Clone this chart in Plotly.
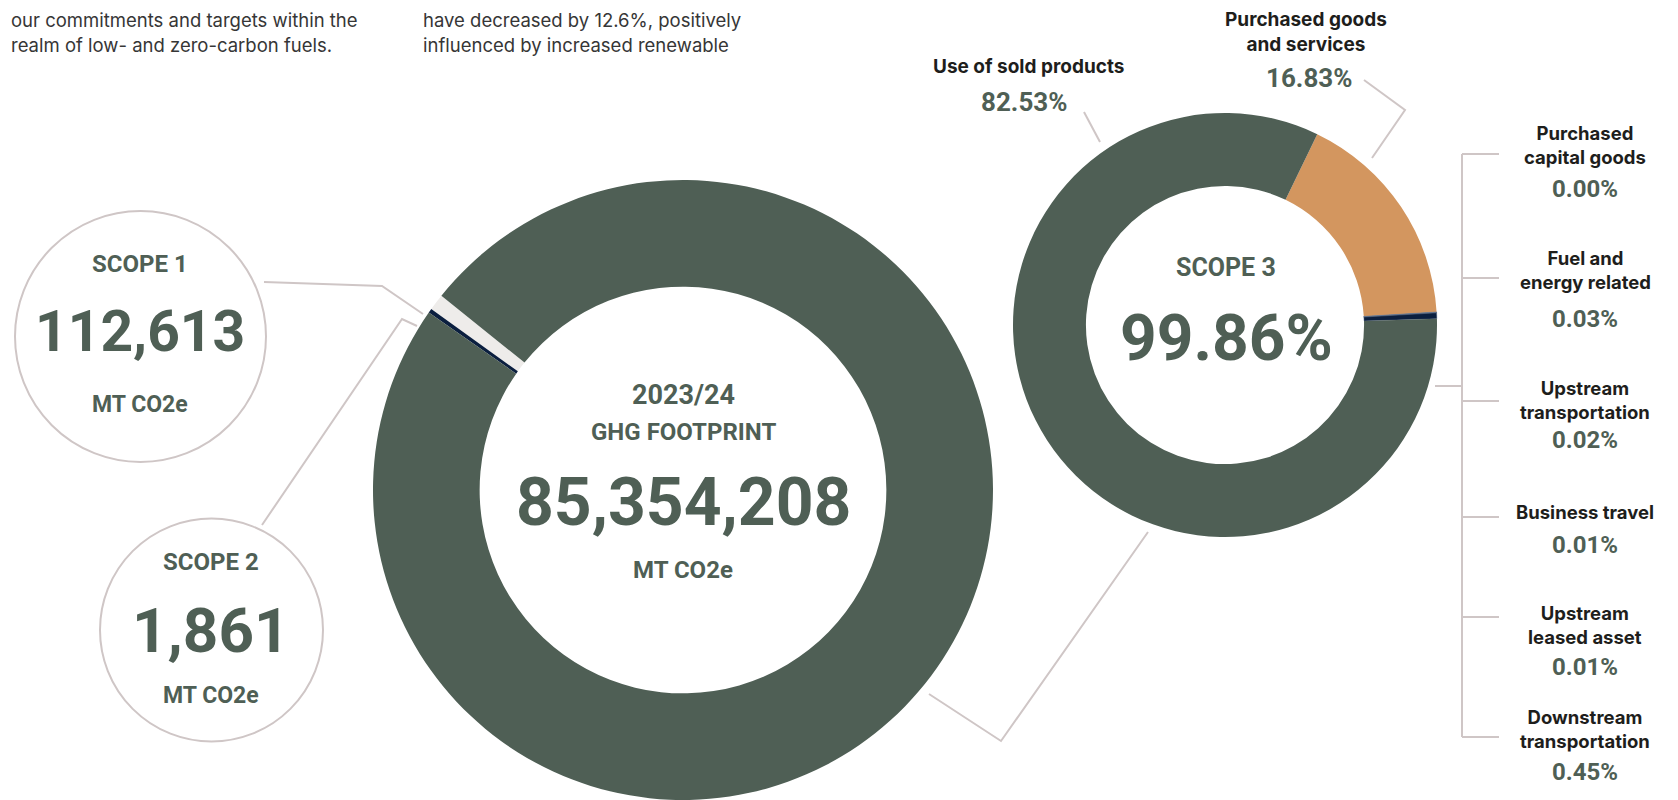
import plotly.graph_objects as go

W, H = 1678, 800

# ---------------- data ----------------
footprint_year = "2023/24"
footprint_total = 85354208
scope_names = ["Scope 1", "Scope 2", "Scope 3"]
scope_mt = [112613, 1861, 85239734]
# angular share of each scope as drawn on the main ring (%)
ring_share = [0.86, 0.22, 98.92]

s3_categories = ["Purchased goods and services", "Purchased capital goods",
                 "Fuel and energy related", "Upstream transportation",
                 "Business travel", "Upstream leased asset",
                 "Downstream transportation", "Use of sold products"]
s3_share = [16.83, 0.00, 0.03, 0.02, 0.01, 0.01, 0.45, 82.53]
scope3_share_of_total = 99.86

list_labels = ["Purchased<br>capital goods", "Fuel and<br>energy related",
               "Upstream<br>transportation", "Business travel",
               "Upstream<br>leased asset", "Downstream<br>transportation"]
list_values = s3_share[1:7]

body_col1 = ["our commitments and targets within the",
             "realm of low- and zero-carbon fuels."]
body_col2 = ["have decreased by 12.6%, positively",
             "influenced by increased renewable"]

# ---------------- style ----------------
GREEN = "#4F5F55"
ORANGE = "#D3965F"
NAVY = "#0B1F3F"
LIGHT = "#EEECEA"
LINE = "#CFC6C6"
DARK = "#1E1E1C"
BODY = "#363636"
COND = "Roboto, sans-serif"
SANS = "Inter, Roboto, sans-serif"

fig = go.Figure()

# main ring
fig.add_trace(go.Pie(
    labels=scope_names, values=ring_share, hole=0.656, sort=False,
    direction="counterclockwise", rotation=-54.3,
    marker=dict(colors=[LIGHT, NAVY, GREEN], line=dict(width=0)),
    textinfo="none", hoverinfo="label", showlegend=False,
    domain=dict(x=[(683 - 311) / W, (683 + 311) / W], y=[0, 620 / H]),
))

# scope 3 ring
fig.add_trace(go.Pie(
    labels=s3_categories, values=s3_share, hole=0.656, sort=False,
    direction="clockwise", rotation=25.8,
    marker=dict(colors=[ORANGE] + [NAVY] * 6 + [GREEN],
                line=dict(width=[0, 0, 0.4, 0.4, 0.4, 0.4, 0.4, 0], color="#6f7f95")),
    textinfo="none", hoverinfo="label", showlegend=False,
    domain=dict(x=[(1225 - 212) / W, (1225 + 212) / W], y=[(H - 325 - 212) / H, (H - 325 + 212) / H]),
))

shapes = []


def path(pts):
    d = "M " + " L ".join(f"{x},{y}" for x, y in pts)
    shapes.append(dict(type="path", path=d, xref="x", yref="y", layer="above",
                       line=dict(color=LINE, width=2)))


def circle(cx, cy, r):
    shapes.append(dict(type="circle", xref="x", yref="y", x0=cx - r, x1=cx + r,
                       y0=cy - r, y1=cy + r, layer="above",
                       line=dict(color=LINE, width=2)))


circle(140.5, 336.5, 125.5)
circle(211.5, 630, 111.5)
path([(264, 282), (382, 286), (423, 314)])
path([(262, 525), (402, 319), (417, 326)])
path([(929, 694), (1001, 741), (1148, 532)])
path([(1084, 112), (1100, 142)])
path([(1364, 80), (1405, 110), (1372, 158)])
path([(1462, 154), (1462, 737)])
tick_y = [154, 278, 401, 517, 617, 737]
for ty in tick_y:
    path([(1462, ty), (1499, ty)])
path([(1435, 386), (1462, 386)])

ann = []


def txt(x, y, s, size, color=GREEN, family=COND, weight="bold", xanchor="center"):
    ann.append(dict(x=x, y=y, xref="x", yref="y", text=s, showarrow=False,
                    xanchor=xanchor, yanchor="middle", align="center" if xanchor == "center" else "left",
                    font=dict(family=family, size=size, color=color, weight=weight)))


# scope 1 & 2 bubbles
txt(140, 264, scope_names[0].upper(), 24)
txt(140, 331, f"{scope_mt[0]:,}", 57)
txt(140, 404, "MT CO2e", 23)
txt(211, 562, scope_names[1].upper(), 24)
txt(211, 630, f"{scope_mt[1]:,}", 62)
txt(211, 695, "MT CO2e", 23)

# centre of main ring
txt(683, 395, footprint_year, 27)
txt(683, 432, "GHG FOOTPRINT", 24)
txt(683, 502, f"{footprint_total:,}", 66)
txt(683, 570, "MT CO2e", 24)

# centre of scope 3 ring
txt(1226, 267, scope_names[2].upper(), 25)
txt(1226, 338, f"{scope3_share_of_total:.2f}%", 64)

# top labels
txt(1028, 66, "Use of sold products", 19, color=DARK, family=SANS)
txt(1024, 102, f"{s3_share[7]:.2f}%", 26)
txt(1306, 31.5, "Purchased goods<br>and services", 19, color=DARK, family=SANS)
txt(1309, 78, f"{s3_share[0]:.2f}%", 26)

# right list
label_y = [145, 270, 400, 512, 624.5, 729]
pct_y = [189, 319, 440, 545, 667, 772]
for lab, v, ly, py in zip(list_labels, list_values, label_y, pct_y):
    txt(1585, ly, lab, 18.5, color=DARK, family=SANS)
    txt(1585, py, f"{v:.2f}%", 24)

# body text
for i, line in enumerate(body_col1):
    txt(8.5, 20 + 25 * i, line, 18.5, color=BODY, family=SANS, weight="normal", xanchor="left")
for i, line in enumerate(body_col2):
    txt(420.6, 20 + 25 * i, line, 18.5, color=BODY, family=SANS, weight="normal", xanchor="left")

fig.update_layout(
    width=W, height=H, autosize=False,
    margin=dict(l=0, r=0, t=0, b=0, pad=0),
    paper_bgcolor="white", plot_bgcolor="white",
    xaxis=dict(range=[0, W], visible=False, fixedrange=True),
    yaxis=dict(range=[H, 0], visible=False, fixedrange=True),
    shapes=shapes, annotations=ann, showlegend=False,
)

fig.write_html("out.html", config={"displayModeBar": False},
               post_script="document.body.style.margin='0';document.body.style.overflow='hidden';")
